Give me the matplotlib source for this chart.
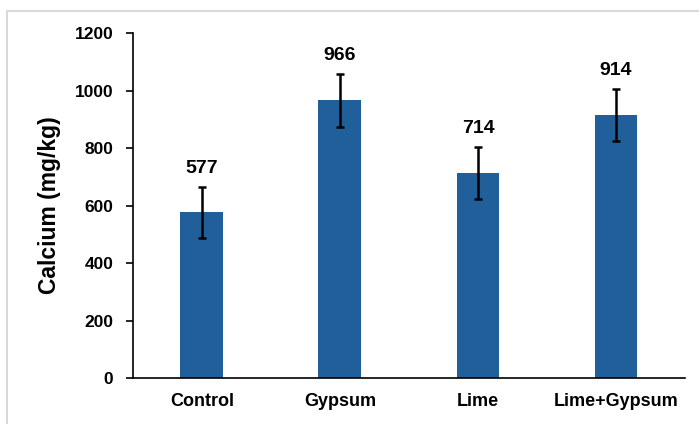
import matplotlib.pyplot as plt
from matplotlib.lines import Line2D

# Dados
tratamentos = ['Control', 'Gypsum', 'Lime', 'Lime+Gypsum']
calcio = [577, 966, 714, 914]
erros = [89, 92, 90, 91]
ticks_y = [0, 200, 400, 600, 800, 1000, 1200]

plt.rcParams['font.family'] = ['Liberation Sans', 'DejaVu Sans']
plt.rcParams['font.weight'] = 'bold'

fig = plt.figure(figsize=(6.99, 4.24), dpi=100)
ax = fig.add_axes([0.190, 0.1085, 0.790, 0.8135])

pos = list(range(len(tratamentos)))
ax.bar(pos, calcio, width=0.31, color='#215f9a', zorder=2)
ax.errorbar(pos, calcio, yerr=erros, fmt='none', ecolor='black',
            elinewidth=1.8, capsize=3, capthick=1.8, zorder=3)

for x, v, e in zip(pos, calcio, erros):
    ax.annotate(str(v), (x, v + e), xytext=(0, 7), textcoords='offset points',
                ha='center', va='bottom', fontsize=14, fontweight='bold')

ax.set_xlim(-0.5, 3.5)
ax.set_ylim(0, 1200)
ax.set_yticks(ticks_y)
ax.set_xticks(pos)
ax.set_xticklabels(tratamentos, fontsize=13, fontweight='bold')
ax.tick_params(axis='x', length=0, pad=11)
ax.tick_params(axis='y', length=5, width=1.2, labelsize=12.5, pad=9)
for lab in ax.get_yticklabels():
    lab.set_fontweight('bold')

ax.spines['top'].set_visible(False)
ax.spines['right'].set_visible(False)
ax.spines['left'].set_linewidth(1.2)
ax.spines['bottom'].set_linewidth(1.2)

ax.set_ylabel('Calcium (mg/kg)', fontsize=16.5, fontweight='bold', labelpad=10)

# borda cinza do quadro
fig.add_artist(Line2D([7/699, 7/699], [0, 413/424], color='#d9d9d9', lw=1.5))
fig.add_artist(Line2D([7/699, 1], [413/424, 413/424], color='#d9d9d9', lw=1.5))

fig.savefig('out.png', dpi=100)
